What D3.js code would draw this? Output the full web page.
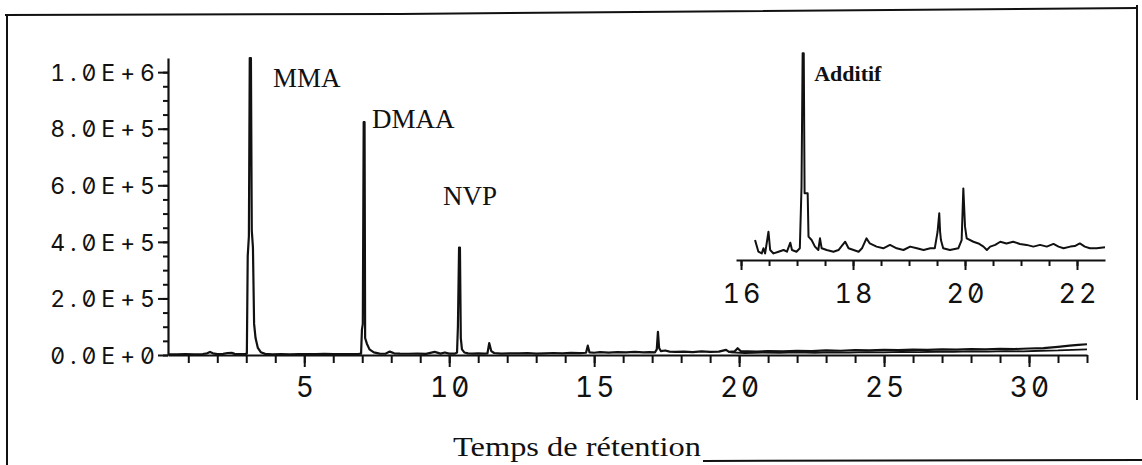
<!DOCTYPE html>
<html>
<head>
<meta charset="utf-8">
<script src="https://cdn.jsdelivr.net/npm/d3@7"></script>
<style>
  html, body { margin: 0; padding: 0; background: #fff; }
  svg { display: block; }
  .num { font-family: Inter, "DejaVu Sans", sans-serif; font-feature-settings: "zero" 1, "tnum" 1; fill: #111; }
  .lbl { font-family: "Liberation Serif", "Times New Roman", serif; fill: #111; }
</style>
</head>
<body>
<svg id="chart" width="1142" height="465"></svg>
<script>
// Retention time (min) and detector response (counts) of the full run
const chromatogram = [
  [0.30, 2500], [0.6, 2000], [0.9, 3000], [1.2, 2500], [1.5, 3500], [1.65, 6000], [1.75, 11000],
  [1.85, 6000], [2.0, 3000], [2.2, 4000], [2.35, 7000], [2.5, 7500], [2.6, 4000], [2.8, 3500],
  [2.95, 3000], [3.02, 5000], [3.05, 350000], [3.09, 420000], [3.12, 1050000], [3.16, 1050000],
  [3.19, 440000], [3.23, 380000], [3.27, 110000], [3.32, 60000], [3.40, 25000], [3.50, 10000],
  [3.65, 4000], [3.9, 2500], [4.2, 3000], [4.5, 2500], [4.8, 3500], [5.1, 3000], [5.4, 3000],
  [5.7, 4000], [6.0, 3000], [6.3, 3500], [6.6, 3000], [6.85, 3500], [6.96, 5000], [6.99, 90000],
  [7.02, 110000], [7.05, 823000], [7.08, 823000], [7.10, 60000], [7.16, 40000], [7.25, 20000],
  [7.40, 9000], [7.60, 5000], [7.8, 4500], [7.95, 12000], [8.1, 6000], [8.3, 5000], [8.6, 4500],
  [8.9, 5000], [9.2, 4000], [9.5, 11000], [9.7, 5000], [9.85, 9000], [10.0, 5000], [10.20, 5000],
  [10.27, 9000], [10.30, 100000], [10.34, 380000], [10.37, 380000], [10.40, 60000], [10.44, 20000],
  [10.52, 9000], [10.65, 6000], [10.8, 5000], [11.0, 6000], [11.2, 5000], [11.32, 6000],
  [11.38, 42000], [11.45, 14000], [11.55, 7000], [11.8, 5000], [12.1, 6000], [12.4, 5500],
  [12.7, 6500], [13.0, 5000], [13.3, 6000], [13.6, 7000], [13.9, 6000], [14.2, 7500], [14.5, 6500],
  [14.72, 8000], [14.78, 33000], [14.84, 9000], [15.0, 8000], [15.2, 10000], [15.5, 8500],
  [15.8, 10000], [16.1, 9000], [16.4, 11000], [16.7, 9000], [16.9, 10000], [17.1, 9500],
  [17.16, 20000], [17.20, 82000], [17.24, 25000], [17.30, 14000], [17.45, 16000], [17.6, 12000],
  [17.8, 11000], [18.1, 12000], [18.4, 10000], [18.7, 12500], [19.0, 11000], [19.3, 12000],
  [19.55, 18000], [19.65, 11000], [19.85, 13000], [19.95, 24000], [20.05, 14000], [20.3, 13000],
  [20.6, 12000], [21.0, 14000], [21.5, 13000], [22.0, 15000], [22.5, 14000], [23.0, 16000],
  [23.5, 15000], [24.0, 17000], [24.5, 16000], [25.0, 18000], [25.5, 17000], [26.0, 19000],
  [26.5, 18000], [27.0, 20000], [27.5, 19000], [28.0, 21000], [28.5, 20000], [29.0, 22000],
  [29.5, 21000], [30.0, 23000], [30.5, 24000], [31.0, 29000], [31.4, 33000], [31.7, 36000],
  [32.0, 38000]
];

// Second baseline trace running under the end of the run
const blankTrace = [
  [19.7, 9000], [20.2, 7000], [20.8, 8500], [21.4, 7500], [22.0, 9000], [22.6, 8000], [23.2, 9500],
  [23.8, 8500], [24.4, 10000], [25.0, 9500], [25.6, 11000], [26.2, 10000], [26.8, 11500],
  [27.4, 11000], [28.0, 12500], [28.6, 12000], [29.2, 13500], [29.8, 13000], [30.4, 15000],
  [31.0, 16000], [31.5, 18000], [32.0, 20000]
];

// Expanded view of the 16 - 22.5 min window
const insetTrace = [
  [16.25, 8200], [16.31, 3400], [16.37, 2700], [16.40, 4800], [16.43, 2700], [16.49, 11600],
  [16.52, 4100], [16.58, 2700], [16.67, 3400], [16.76, 4100], [16.82, 3400], [16.88, 7100],
  [16.91, 4100], [16.99, 3400], [17.05, 4800], [17.08, 30000], [17.10, 84900], [17.12, 84900],
  [17.135, 27400], [17.19, 27400], [17.205, 9600], [17.26, 8200], [17.32, 5500], [17.38, 4100],
  [17.41, 8900], [17.44, 4800], [17.53, 4100], [17.65, 3400], [17.74, 4100], [17.86, 7500],
  [17.92, 4800], [18.01, 4100], [18.10, 3400], [18.16, 4800], [18.24, 8900], [18.30, 6800],
  [18.42, 5500], [18.54, 4800], [18.66, 6200], [18.78, 4800], [18.90, 4100], [19.02, 5500],
  [19.14, 4800], [19.26, 4100], [19.38, 4800], [19.46, 4800], [19.51, 11600], [19.54, 19200],
  [19.555, 11600], [19.57, 8200], [19.61, 4800], [19.73, 4100], [19.88, 4800], [19.94, 8200],
  [19.97, 29400], [20.00, 13700], [20.03, 8900], [20.15, 7500], [20.24, 6800], [20.33, 5500],
  [20.39, 4100], [20.45, 5500], [20.54, 6200], [20.63, 7500], [20.74, 6800], [20.86, 7500],
  [20.98, 6600], [21.10, 6200], [21.22, 5500], [21.34, 6200], [21.46, 5500], [21.58, 6600],
  [21.67, 5500], [21.76, 4800], [21.88, 5500], [21.96, 5700], [22.05, 6800], [22.14, 5500],
  [22.23, 4800], [22.35, 4800], [22.50, 5200]
];

const xMajorTicks = [5, 10, 15, 20, 25, 30];
const xMinorTicks = d3.range(1, 33, 1);
const yMajorTicks = [0, 2e5, 4e5, 6e5, 8e5, 1e6];
const yMinorTicks = d3.range(0, 1e6 + 1, 5e4);
const insetMajorTicks = [16, 18, 20, 22];
const insetMinorTicks = d3.range(16, 22.01, 0.5);

const peakLabels = [
  { name: "MMA", t: 3.14 },
  { name: "DMAA", t: 7.06 },
  { name: "NVP", t: 10.35 }
];
const insetLabel = { name: "Additif", t: 17.11 };
const xTitle = "Temps de rétention";

const svg = d3.select("#chart");

// Scales
const x = d3.scaleLinear().domain([0.3, 32]).range([168, 1087]);
const y = d3.scaleLinear().domain([0, 1.05e6]).range([355, 58]);
const xi = d3.scaleLinear().domain([15.91, 22.5]).range([736, 1105]);
const yi = d3.scaleLinear().domain([0, 85000]).range([260, 53]);

// Frame
const frame = svg.append("g").attr("fill", "none").attr("stroke", "#111").attr("stroke-width", 2);
frame.append("polyline").attr("points", "5,15 400,14 700,11.5 1137,8");
frame.append("line").attr("x1", 7).attr("y1", 14).attr("x2", 7).attr("y2", 465);
frame.append("line").attr("x1", 1137).attr("y1", 5).attr("x2", 1137).attr("y2", 400);
frame.append("line").attr("x1", 703).attr("y1", 461).attr("x2", 1142).attr("y2", 460);

// Main axes
function styleAxis(g) {
  g.select(".domain").attr("stroke", "#111").attr("stroke-width", 2.2);
  g.selectAll(".tick line").attr("stroke", "#111").attr("stroke-width", 2);
}

svg.append("g").attr("transform", "translate(168,0)")
  .call(d3.axisLeft(y).tickValues(yMinorTicks).tickSize(5).tickSizeOuter(0).tickFormat(""))
  .call(styleAxis);

const yAx = svg.append("g").attr("transform", "translate(168,0)")
  .call(d3.axisLeft(y).tickValues(yMajorTicks).tickSize(10).tickSizeOuter(0)
    .tickFormat(d => d.toExponential(1).toUpperCase()))
  .call(styleAxis);
yAx.select(".domain").remove();
yAx.selectAll("text").attr("class", "num").attr("x", -8).attr("dy", "0.36em")
  .style("font-size", "23px").style("letter-spacing", "5px");

svg.append("g").attr("transform", "translate(0,355)")
  .call(d3.axisBottom(x).tickValues(xMinorTicks).tickSize(8).tickSizeOuter(0).tickFormat(""))
  .call(styleAxis);

const xAx = svg.append("g").attr("transform", "translate(0,355)")
  .call(d3.axisBottom(x).tickValues(xMajorTicks).tickSize(12).tickSizeOuter(0).tickFormat(d3.format("d")))
  .call(styleAxis);
xAx.select(".domain").remove();
xAx.selectAll("text").attr("class", "num").attr("y", 42).attr("dy", 0).attr("dx", "1.5px")
  .style("font-size", "28px").style("letter-spacing", "3px");

// Traces
const line = d3.line().x(d => x(d[0])).y(d => y(d[1]));
svg.append("path").datum(blankTrace).attr("d", line)
  .attr("fill", "none").attr("stroke", "#111").attr("stroke-width", 1.8);
svg.append("path").datum(chromatogram).attr("d", line)
  .attr("fill", "none").attr("stroke", "#111").attr("stroke-width", 2.2).attr("stroke-linejoin", "round");

// Peak names
const peakPos = { MMA: [273, 87], DMAA: [372, 128], NVP: [443, 205] };
svg.selectAll(".peak").data(peakLabels).join("text")
  .attr("class", "lbl")
  .attr("x", d => peakPos[d.name][0])
  .attr("y", d => peakPos[d.name][1])
  .style("font-size", "27px")
  .text(d => d.name);

// Inset
const lineI = d3.line().x(d => xi(d[0])).y(d => yi(d[1]));
const inset = svg.append("g");
inset.append("g").attr("transform", "translate(0,260)")
  .call(d3.axisBottom(xi).tickValues(insetMinorTicks).tickSize(6).tickSizeOuter(0).tickFormat(""))
  .call(styleAxis);
const iAx = inset.append("g").attr("transform", "translate(0,260)")
  .call(d3.axisBottom(xi).tickValues(insetMajorTicks).tickSize(10).tickSizeOuter(0).tickFormat(d3.format("d")))
  .call(styleAxis);
iAx.select(".domain").remove();
iAx.selectAll("text").attr("class", "num").attr("y", 43).attr("dy", 0).attr("dx", "1.5px")
  .style("font-size", "27px").style("letter-spacing", "3px");

inset.append("path").datum(insetTrace).attr("d", lineI)
  .attr("fill", "none").attr("stroke", "#111").attr("stroke-width", 2).attr("stroke-linejoin", "round");

inset.append("text").attr("class", "lbl")
  .attr("x", xi(insetLabel.t) + 11).attr("y", 81)
  .style("font-size", "22px").style("font-weight", "bold")
  .text(insetLabel.name);

// Axis title
svg.append("text").attr("class", "lbl")
  .attr("x", 453).attr("y", 456)
  .attr("textLength", 248).attr("lengthAdjust", "spacingAndGlyphs")
  .style("font-size", "28px")
  .text(xTitle);
</script>
</body>
</html>
